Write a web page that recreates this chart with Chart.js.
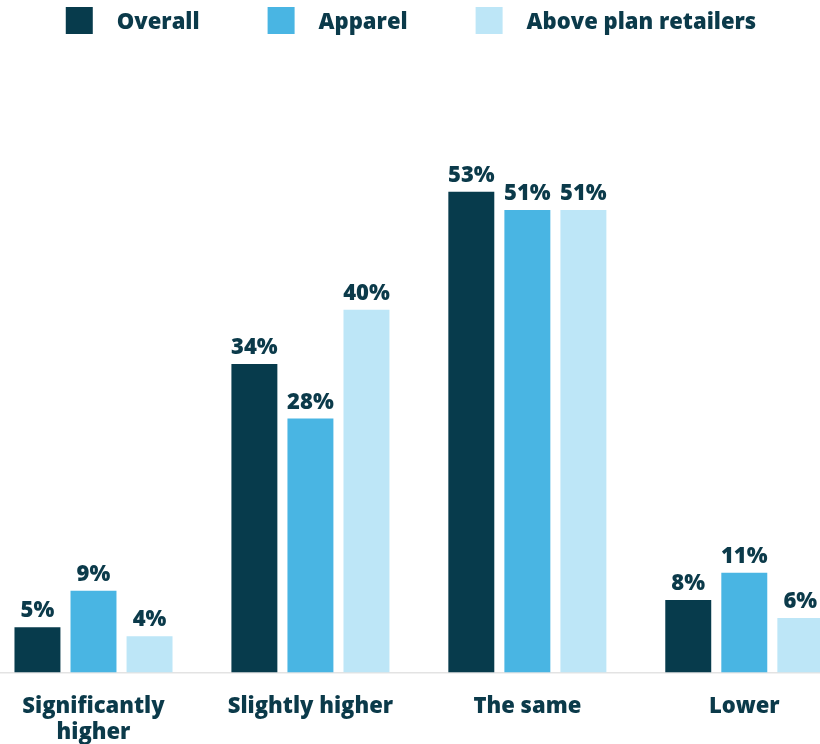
<!DOCTYPE html>
<html>
<head>
<meta charset="utf-8">
<title>Grouped bar chart</title>
<script src="https://cdn.jsdelivr.net/npm/chart.js@4/dist/chart.umd.min.js"></script>
<style>
  html, body { margin: 0; padding: 0; background: #ffffff; overflow: hidden; }
  #wrap { position: relative; width: 820px; height: 744px; }
</style>
</head>
<body>
<div id="wrap"><canvas id="chart"></canvas></div>
<script>
// Answer categories (x axis) and the three series shown for each
const categories = [["Significantly", "higher"], "Slightly higher", "The same", "Lower"];
const seriesNames = ["Overall", "Apparel", "Above plan retailers"];
const overall = [5, 34, 53, 8];
const apparel = [9, 28, 51, 11];
const abovePlan = [4, 40, 51, 6];

const seriesValues = [overall, apparel, abovePlan];
const seriesColors = ["#073b4c", "#49b5e3", "#bde6f7"];
const textColor = "#0b3a4a";
const FONT = "'Open Sans', 'DejaVu Sans', sans-serif";

const datasets = seriesNames.map((name, s) => ({
  label: name,
  data: seriesValues[s].map((v, i) => ({ x: i, y: v })),
  backgroundColor: seriesColors[s],
  borderWidth: 0,
  categoryPercentage: 0.775,
  barPercentage: 0.82
}));

// Percentage labels printed just above every bar
const valueLabels = {
  id: "valueLabels",
  afterDatasetsDraw(chart) {
    const ctx = chart.ctx;
    ctx.save();
    ctx.font = "800 22px " + FONT;
    ctx.fillStyle = textColor;
    ctx.textAlign = "center";
    ctx.textBaseline = "alphabetic";
    chart.data.datasets.forEach((ds, s) => {
      const meta = chart.getDatasetMeta(s);
      meta.data.forEach((bar, i) => {
        ctx.fillText(seriesValues[s][i] + "%", bar.x, bar.y - 10);
      });
    });
    ctx.restore();
  }
};

// Legend row across the top: square swatch, then the series name
const topLegend = {
  id: "topLegend",
  afterDraw(chart) {
    const ctx = chart.ctx;
    const box = 27, boxGap = 24, itemGap = 68;
    ctx.save();
    ctx.font = "800 22px " + FONT;
    const widths = seriesNames.map(n => ctx.measureText(n).width);
    const total = widths.reduce((a, w) => a + box + boxGap + w, 0) + itemGap * (seriesNames.length - 1);
    let x = 411 - total / 2;
    ctx.textBaseline = "alphabetic";
    ctx.textAlign = "left";
    seriesNames.forEach((name, s) => {
      ctx.fillStyle = seriesColors[s];
      ctx.fillRect(x, 7, box, box);
      ctx.fillStyle = textColor;
      ctx.fillText(name, x + box + boxGap, 29);
      x += box + boxGap + widths[s] + itemGap;
    });
    ctx.restore();
  }
};

new Chart(document.getElementById("chart"), {
  type: "bar",
  data: { datasets },
  plugins: [valueLabels, topLegend],
  options: {
    responsive: true,
    maintainAspectRatio: false,
    animation: false,
    layout: { padding: { top: 128.3, left: 0, right: 0, bottom: 0 } },
    plugins: {
      legend: { display: false },
      tooltip: { enabled: false }
    },
    scales: {
      x: {
        type: "linear",
        offset: false,
        min: -0.431,
        max: 3.349,
        grid: { display: false, drawTicks: false, offset: false },
        border: { display: true, color: "#e3e3e3", width: 1.5 },
        ticks: {
          stepSize: 1,
          includeBounds: false,
          autoSkip: false,
          maxRotation: 0,
          padding: 21,
          color: textColor,
          font: { family: FONT, size: 22, weight: "800", lineHeight: 1.18 },
          callback: v => Number.isInteger(v) && categories[v] !== undefined ? categories[v] : ""
        },
        afterFit: scale => { scale.height = 71.5; }
      },
      y: {
        display: false,
        min: 0,
        max: 60
      }
    }
  }
});
</script>
</body>
</html>
